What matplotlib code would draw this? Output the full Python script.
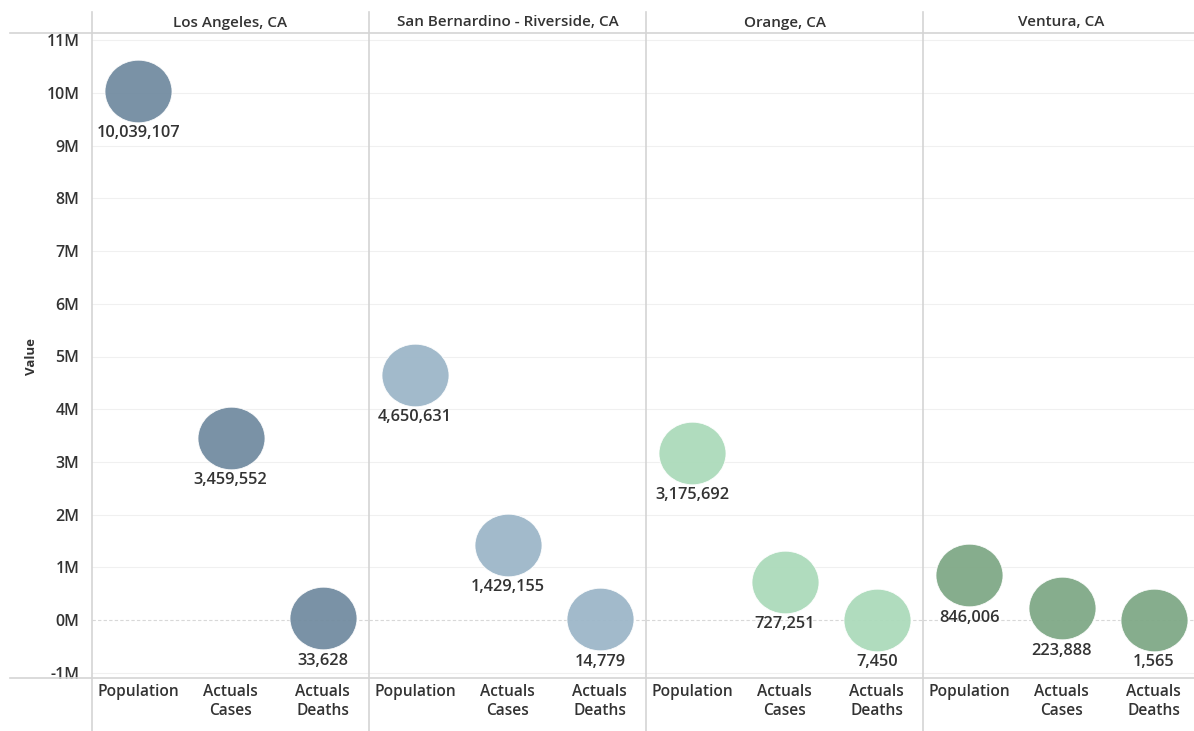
import numpy as np
import matplotlib.pyplot as plt
from matplotlib.lines import Line2D
from matplotlib.path import Path
from matplotlib.transforms import Affine2D

# データ
regions = ["Los Angeles, CA", "San Bernardino - Riverside, CA", "Orange, CA", "Ventura, CA"]
measures = ["Population", "Actuals\nCases", "Actuals\nDeaths"]
population = [10039107, 4650631, 3175692, 846006]
cases = [3459552, 1429155, 727251, 223888]
deaths = [33628, 14779, 7450, 1565]
colors = ["#738ca1", "#9db7c9", "#acdbbb", "#80a987"]

plt.rcParams['font.family'] = ['Open Sans', 'DejaVu Sans']

W, H = 1194, 731
fig = plt.figure(figsize=(W / 100, H / 100), dpi=100)

x_left, x_right = 92, 1200
y_top, y_bottom = 35, 678
pw = (x_right - x_left) / 4
txt_c = "#333333"
fw = 600

def fx(px):
    return px / W

def fy(py):
    return 1 - py / H

# 少し横長の楕円マーカー
oval = Path.unit_circle().transformed(Affine2D().scale(1.07, 1.0))

for i, region in enumerate(regions):
    left = x_left + i * pw
    ax = fig.add_axes([fx(left), fy(y_bottom), fx(pw), fy(y_top) - fy(y_bottom)])
    vals = [population[i], cases[i], deaths[i]]
    xs = np.arange(3)
    ax.set_xlim(-0.5, 2.5)
    ax.set_ylim(-1.1e6, 11.1e6)
    ax.set_yticks(np.arange(-1, 12) * 1e6)
    for yv in np.arange(-1, 12) * 1e6:
        if yv == 0:
            ax.axhline(yv, color="#d8d8d8", lw=0.8, ls=(0, (3, 2)), zorder=0)
        else:
            ax.axhline(yv, color="#f0f0f0", lw=0.8, zorder=0)
    ax.scatter(xs, vals, s=2330, marker=oval, color=colors[i], alpha=0.95,
               edgecolors="white", linewidths=0.6, zorder=3)
    for x, v in zip(xs, vals):
        ax.annotate(f"{v:,}", (x, v), xytext=(0, -30.5), textcoords="offset points",
                    ha="center", va="center", fontsize=11.8, color=txt_c,
                    fontweight=fw)
    ax.set_xticks(xs)
    ax.set_xticklabels(measures, fontsize=11.2, color=txt_c, fontweight=fw,
                       linespacing=1.3)
    ax.tick_params(axis="x", length=0, pad=4)
    if i == 0:
        ax.set_yticklabels([f"{v}M" for v in range(-1, 12)], fontsize=11.5,
                           color=txt_c, fontweight=fw)
        ax.tick_params(axis="y", length=0, pad=9)
        ax.set_ylabel("Value", fontsize=9.5, fontweight="bold", color=txt_c, labelpad=6)
    else:
        ax.tick_params(axis="y", left=False, labelleft=False)
    for s in ax.spines.values():
        s.set_visible(False)
    fig.text(fx(left + pw / 2), fy(22.5), region, ha="center", va="center",
             fontsize=11, color=txt_c, fontweight=fw)

# 枠線
line_c = "#d4d4d4"
for py in [33, y_bottom]:
    fig.add_artist(Line2D([fx(10), 1], [fy(py), fy(py)], color=line_c, lw=1.2))
for k in range(4):
    px = x_left + k * pw
    fig.add_artist(Line2D([fx(px), fx(px)], [fy(12), 0], color=line_c, lw=1.2))

fig.savefig("out.png", dpi=100)
